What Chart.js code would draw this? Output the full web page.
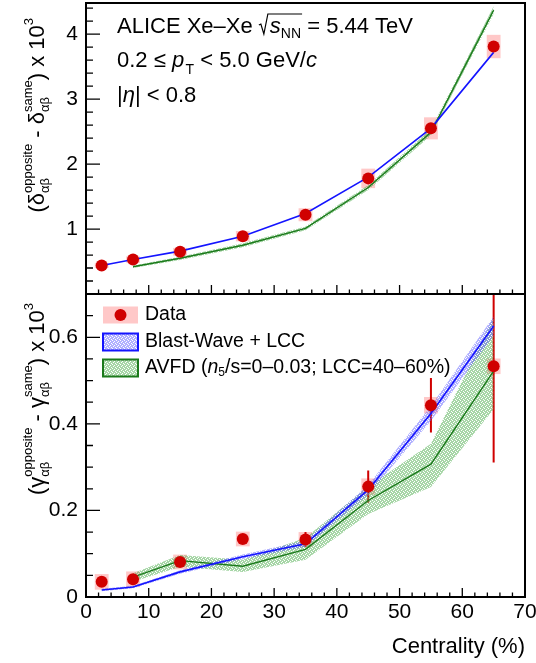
<!DOCTYPE html>
<html>
<head>
<meta charset="utf-8">
<script src="https://cdn.jsdelivr.net/npm/chart.js@4.4.1/dist/chart.umd.min.js"></script>
<style>
  body { margin: 0; background: #fff; }
  canvas { position: absolute; left: 0; }
  #top { top: 0; }
  #bot { top: 290px; }
</style>
</head>
<body>
<canvas id="top" width="536" height="296"></canvas>
<canvas id="bot" width="536" height="373"></canvas>
<script>
// centrality bin centres (%)
const centrality = [2.5, 7.5, 15, 25, 35, 45, 55, 65];

// upper panel: delta(opp) - delta(same), x 10^3
const deltaData    = [0.44, 0.53, 0.65, 0.89, 1.22, 1.78, 2.55, 3.81];
const deltaSys     = [0.04, 0.05, 0.06, 0.08, 0.10, 0.15, 0.17, 0.18];
const deltaBW      = [0.44, 0.53, 0.66, 0.89, 1.24, 1.80, 2.55, 3.72];
const deltaAVFD    = [null, 0.42, 0.55, 0.75, 1.01, 1.64, 2.49, 4.37];
const deltaAVFDErr = [null, 0.02, 0.025, 0.03, 0.03, 0.04, 0.05, 0.06];

// lower panel: gamma(opp) - gamma(same), x 10^3
const gammaData   = [0.035, 0.041, 0.081, 0.134, 0.133, 0.255, 0.443, 0.533];
const gammaStat   = [0.002, 0.003, 0.004, 0.005, 0.017, 0.037, 0.063, 0.222];
const gammaSys    = [0.018, 0.018, 0.017, 0.017, 0.017, 0.019, 0.019, 0.018];
const gammaBW     = [0.016, 0.023, 0.058, 0.093, 0.123, 0.248, 0.424, 0.626];
const gammaBWErr  = [0.003, 0.003, 0.004, 0.005, 0.007, 0.011, 0.017, 0.022];
const gammaAVFD   = [null, 0.046, 0.084, 0.071, 0.110, 0.223, 0.307, 0.522];
const gammaAVFDLo = [null, 0.035, 0.070, 0.058, 0.086, 0.192, 0.254, 0.434];
const gammaAVFDHi = [null, 0.055, 0.097, 0.086, 0.137, 0.255, 0.354, 0.646];

// tick labels
const xTicks    = [0, 10, 20, 30, 40, 50, 60, 70];
const topYTicks = [1, 2, 3, 4];
const botYTicks = [0, 0.2, 0.4, 0.6];

const FONT  = '"Liberation Sans", Arial, sans-serif';
const RED   = '#d00000';
const PINK  = '#ffc8c8';
const BLUE  = '#1414ff';
const GREEN = '#1b7a1b';
const BOX_HW = 1.1; // half width of the systematic boxes, in %

function pattern(rgba) {
  const t = document.createElement('canvas');
  t.width = 4; t.height = 4;
  const g = t.getContext('2d');
  g.fillStyle = rgba;
  const bits = ['x.xx', 'xxx.', '.xxx', 'xx.x'];
  bits.forEach((row, j) => row.split('').forEach((c, i) => { if (c === 'x') g.fillRect(i, j, 1, 1); }));
  return g.createPattern(t, 'repeat');
}
const greenPat = pattern('rgba(95,180,95,0.55)');
const bluePat  = pattern('rgba(100,100,255,0.5)');

const pts = ys => centrality.map((x, i) => ({x, y: ys[i]})).filter(p => p.y !== null);
const plus  = (a, e) => a.map((v, i) => v === null ? null : v + e[i]);
const minus = (a, e) => a.map((v, i) => v === null ? null : v - e[i]);

// rich text: runs of plain / italic / raised / stacked sup+sub text
function runs(ctx, list, x0, y0, draw) {
  let x = x0;
  for (const r of list) {
    ctx.font = (r.it ? 'italic ' : '') + r.s + 'px ' + FONT;
    if (r.sup !== undefined) {
      const w = Math.max(ctx.measureText(r.sup).width, ctx.measureText(r.sub).width);
      if (draw) { ctx.fillText(r.sup, x, y0 + r.up); ctx.fillText(r.sub, x, y0 + r.dn); }
      x += w;
    } else {
      if (draw) ctx.fillText(r.t, x, y0 + (r.dy || 0));
      x += ctx.measureText(r.t).width;
    }
  }
  return x - x0;
}

function yTitle(ctx, list, bx, yEnd) {
  const w = runs(ctx, list, 0, 0, false);
  ctx.save();
  ctx.translate(bx, yEnd + w);
  ctx.rotate(-Math.PI / 2);
  ctx.fillStyle = '#000';
  ctx.textBaseline = 'alphabetic';
  ctx.textAlign = 'left';
  runs(ctx, list, 0, 0, true);
  ctx.restore();
}

function steps(min, max, minor, major) {
  const out = [];
  for (let k = Math.ceil(min / minor - 1e-6); k <= Math.floor(max / minor + 1e-6); k++) {
    const v = k * minor;
    out.push([v, Math.abs(v / major - Math.round(v / major)) < 1e-6]);
  }
  return out;
}

function drawFrame(chart, yMinor, yMajor) {
  const {ctx, chartArea: a, scales: {x, y}} = chart;
  ctx.save();
  ctx.strokeStyle = '#000';
  ctx.lineWidth = 1.3;
  ctx.beginPath();
  steps(y.min, y.max, yMinor, yMajor).forEach(([v, major]) => {
    const py = y.getPixelForValue(v);
    ctx.moveTo(a.left, py); ctx.lineTo(a.left + (major ? 14 : 7), py);
  });
  steps(x.min, x.max, 2, 10).forEach(([v, major]) => {
    const px = x.getPixelForValue(v);
    ctx.moveTo(px, a.bottom); ctx.lineTo(px, a.bottom - (major ? 9 : 4.5));
  });
  ctx.stroke();
  ctx.lineWidth = 2;
  ctx.strokeRect(a.left, a.top, a.right - a.left, a.bottom - a.top);
  ctx.restore();
}

function markers(chart, val, sys, stat) {
  const {ctx, chartArea: a, scales: {x, y}} = chart;
  ctx.save();
  ctx.beginPath();
  ctx.rect(a.left, a.top, a.right - a.left, a.bottom - a.top);
  ctx.clip();
  ctx.fillStyle = PINK;
  centrality.forEach((c, i) => {
    const x0 = x.getPixelForValue(c - BOX_HW), x1 = x.getPixelForValue(c + BOX_HW);
    const y0 = y.getPixelForValue(val[i] + sys[i]), y1 = y.getPixelForValue(val[i] - sys[i]);
    ctx.fillRect(x0, y0, x1 - x0, y1 - y0);
  });
  if (stat) {
    ctx.strokeStyle = RED;
    ctx.lineWidth = 2;
    ctx.beginPath();
    centrality.forEach((c, i) => {
      const px = x.getPixelForValue(c);
      ctx.moveTo(px, y.getPixelForValue(val[i] + stat[i]));
      ctx.lineTo(px, y.getPixelForValue(val[i] - stat[i]));
    });
    ctx.stroke();
  }
  ctx.restore();
}

function yAxis(min, max, ticks, fmt) {
  return {
    min, max,
    grid: {display: false, drawTicks: false},
    border: {display: false},
    afterBuildTicks: s => { s.ticks = ticks.map(v => ({value: v})); },
    afterFit: s => { s.width = 80; s.paddingTop = 0; s.paddingBottom = 0; },
    ticks: {font: {family: FONT, size: 21}, color: '#000', padding: 8, callback: fmt}
  };
}

const dataSet = d => ({data: pts(d), showLine: false, pointRadius: 6, pointHoverRadius: 6,
  pointBackgroundColor: RED, pointBorderWidth: 0, order: 0});
const lineSet = (d, c, w) => ({data: pts(d), borderColor: c, borderWidth: w, pointRadius: 0, fill: false, order: 1});
const edgeSet = (d, fill, bg, ord) => ({data: pts(d), borderColor: 'rgba(0,0,0,0)', borderWidth: 1,
  pointRadius: 0, fill: fill, backgroundColor: bg, order: ord});

const M = 22, S = 13;
const deltaTitle = [
  {t: '(', s: M}, {t: 'δ', s: M}, {sup: 'opposite', sub: 'αβ', s: S, up: -12, dn: 5},
  {t: ' - ', s: M}, {t: 'δ', s: M}, {sup: 'same', sub: 'αβ', s: S, up: -12, dn: 5},
  {t: ') x 10', s: M}, {t: '3', s: S, dy: -11}
];
const gammaTitle = [
  {t: '(', s: M}, {t: 'γ', s: M}, {sup: 'opposite', sub: 'αβ', s: S, up: -12, dn: 5},
  {t: ' - ', s: M}, {t: 'γ', s: M}, {sup: 'same', sub: 'αβ', s: S, up: -12, dn: 5},
  {t: ') x 10', s: M}, {t: '3', s: S, dy: -11}
];

const topExtras = {
  id: 'topExtras',
  beforeDatasetsDraw(chart) { markers(chart, deltaData, deltaSys, null); },
  afterDraw(chart) {
    const ctx = chart.ctx;
    drawFrame(chart, 0.2, 1);
    yTitle(ctx, deltaTitle, 44, 18);
    ctx.save();
    ctx.fillStyle = '#000';
    ctx.strokeStyle = '#000';
    ctx.textBaseline = 'alphabetic';
    // line 1 with the square root
    let x = 117, b = 33;
    x += runs(ctx, [{t: 'ALICE Xe–Xe ', s: 22}], x, b, true);
    const sx = x;
    x += 11;
    const w = runs(ctx, [{t: 's', s: 22, it: true}, {t: 'NN', s: 14, dy: 5}], x, b, true);
    ctx.lineWidth = 1.2;
    ctx.beginPath();
    ctx.moveTo(sx, b - 8); ctx.lineTo(sx + 2, b - 9); ctx.lineTo(sx + 5, b + 1);
    ctx.lineTo(sx + 9, b - 19); ctx.lineTo(x + w + 1, b - 19);
    ctx.stroke();
    runs(ctx, [{t: ' = 5.44 TeV', s: 22}], x + w, b, true);
    runs(ctx, [{t: '0.2 ≤ ', s: 22}, {t: 'p', s: 22, it: true}, {t: ' ', s: 5}, {t: 'T', s: 14, dy: 7},
      {t: ' < 5.0 GeV/', s: 22}, {t: 'c', s: 22, it: true}], 117, 67, true);
    runs(ctx, [{t: '|', s: 22}, {t: 'η', s: 22, it: true}, {t: '| < 0.8', s: 22}], 117, 102, true);
    ctx.restore();
  }
};

const botExtras = {
  id: 'botExtras',
  beforeDatasetsDraw(chart) { markers(chart, gammaData, gammaSys, gammaStat); },
  afterDraw(chart) {
    const ctx = chart.ctx;
    drawFrame(chart, 0.05, 0.2);
    yTitle(ctx, gammaTitle, 44, 13);
    ctx.save();
    ctx.fillStyle = '#000';
    ctx.font = '22px ' + FONT;
    ctx.textAlign = 'right';
    ctx.textBaseline = 'alphabetic';
    ctx.fillText('Centrality (%)', 525, 363);
    // legend
    ctx.textAlign = 'left';
    const bx = 103, bw = 35, bh = 17, rows = [25, 52, 78];
    ctx.fillStyle = PINK;
    ctx.fillRect(bx, rows[0] - bh / 2, bw, bh);
    ctx.fillStyle = RED;
    ctx.beginPath(); ctx.arc(bx + bw / 2, rows[0], 6, 0, Math.PI * 2); ctx.fill();
    [[bluePat, BLUE, rows[1]], [greenPat, GREEN, rows[2]]].forEach(([p, c, r]) => {
      ctx.fillStyle = p;
      ctx.fillRect(bx, r - bh / 2, bw, bh);
      ctx.strokeStyle = c; ctx.lineWidth = 2;
      ctx.strokeRect(bx, r - bh / 2, bw, bh);
    });
    ctx.fillStyle = '#000';
    ctx.textBaseline = 'middle';
    runs(ctx, [{t: 'Data', s: 19.5}], 145, rows[0], true);
    runs(ctx, [{t: 'Blast-Wave + LCC', s: 19.5}], 145, rows[1], true);
    runs(ctx, [{t: 'AVFD (', s: 19.5}, {t: 'n', s: 19.5, it: true}, {t: '5', s: 12, dy: 5},
      {t: '/s=0–0.03; LCC=40–60%)', s: 19.5}], 145, rows[2], true);
    ctx.restore();
  }
};

new Chart(document.getElementById('top'), {
  type: 'line',
  data: {datasets: [
    dataSet(deltaData),
    lineSet(deltaBW, BLUE, 1.6),
    lineSet(deltaAVFD, GREEN, 1.4),
    edgeSet(minus(deltaAVFD, deltaAVFDErr), false, undefined, 2),
    edgeSet(plus(deltaAVFD, deltaAVFDErr), '-1', greenPat, 2)
  ]},
  options: {
    responsive: false, animation: false, events: [],
    layout: {autoPadding: false, padding: {left: 6, right: 11, top: 3, bottom: 2}},
    plugins: {legend: {display: false}, tooltip: {enabled: false}},
    scales: {
      x: {type: 'linear', min: 0, max: 70, display: false},
      y: yAxis(0, 4.48, topYTicks, v => String(v))
    }
  },
  plugins: [topExtras]
});

new Chart(document.getElementById('bot'), {
  type: 'line',
  data: {datasets: [
    dataSet(gammaData),
    lineSet(gammaBW, BLUE, 1.6),
    lineSet(gammaAVFD, GREEN, 1.4),
    edgeSet(minus(gammaBW, gammaBWErr), false, undefined, 2),
    edgeSet(plus(gammaBW, gammaBWErr), '-1', bluePat, 2),
    edgeSet(gammaAVFDLo, false, undefined, 3),
    edgeSet(gammaAVFDHi, '-1', greenPat, 3)
  ]},
  options: {
    responsive: false, animation: false, events: [],
    layout: {autoPadding: false, padding: {left: 6, right: 11, top: 4, bottom: 0}},
    plugins: {legend: {display: false}, tooltip: {enabled: false}},
    scales: {
      x: {
        type: 'linear', min: 0, max: 70,
        grid: {display: false, drawTicks: false},
        border: {display: false},
        afterBuildTicks: s => { s.ticks = xTicks.map(v => ({value: v})); },
        afterFit: s => { s.height = 66; s.paddingLeft = 0; s.paddingRight = 0; },
        ticks: {font: {family: FONT, size: 21}, color: '#000', padding: 3, maxRotation: 0, autoSkip: false}
      },
      y: yAxis(0, 0.7, botYTicks, v => v === 0 ? '0' : v.toFixed(1))
    }
  },
  plugins: [botExtras]
});
</script>
</body>
</html>
